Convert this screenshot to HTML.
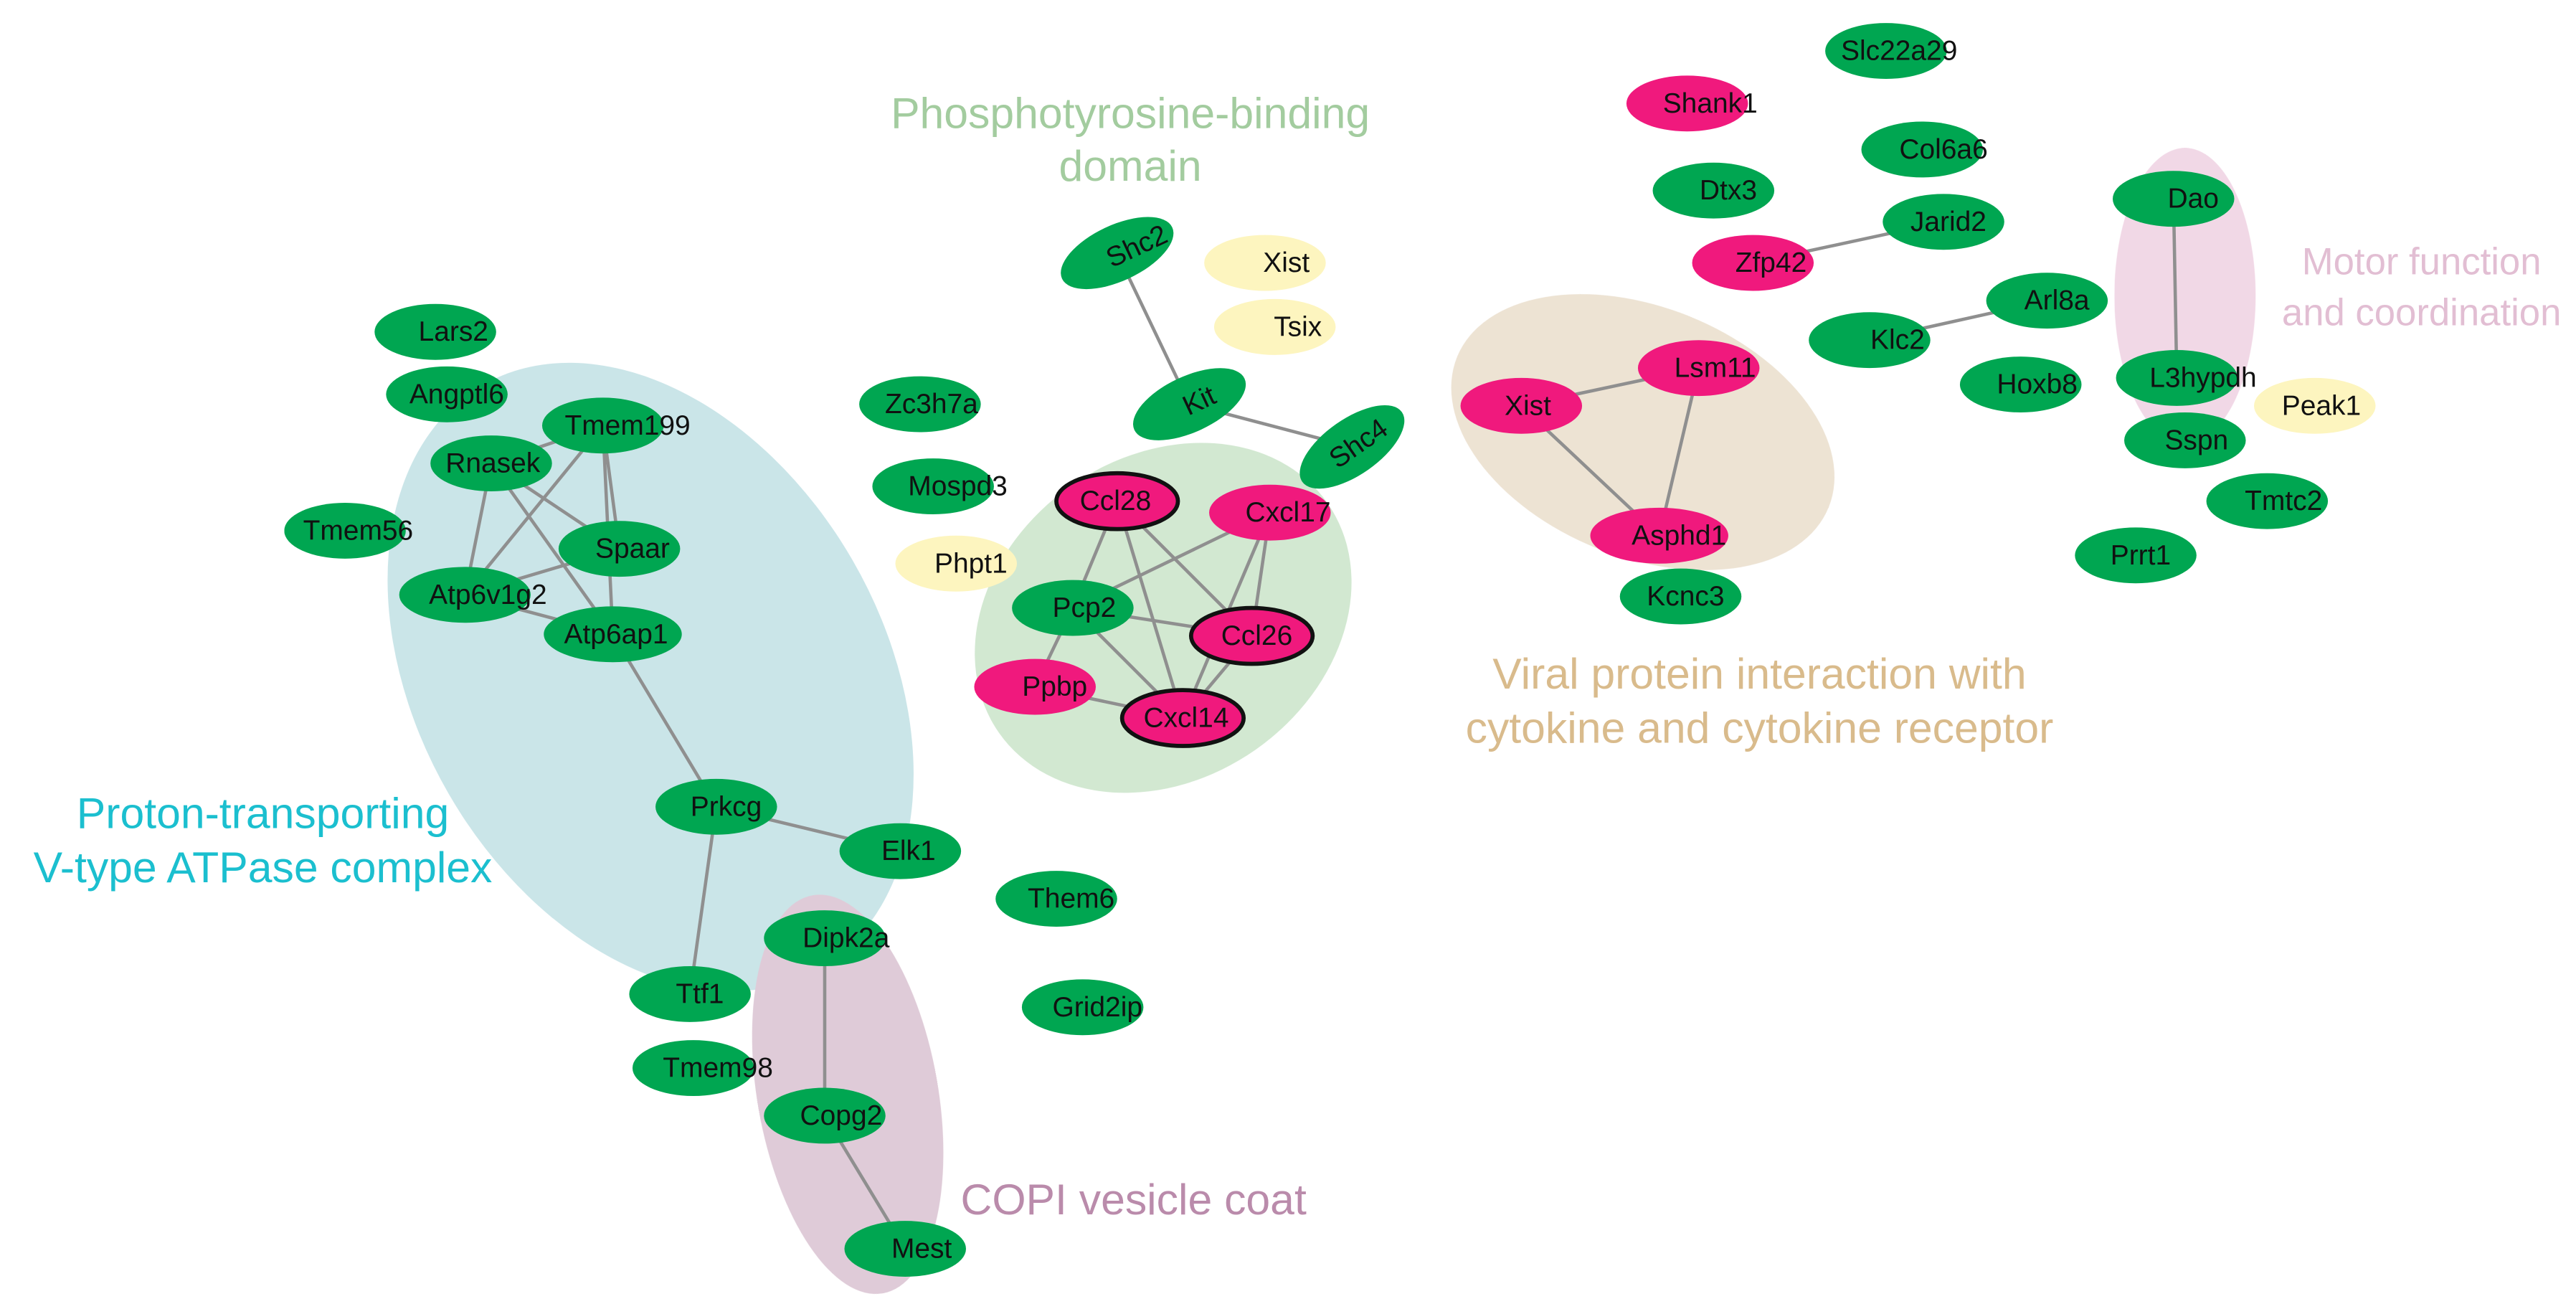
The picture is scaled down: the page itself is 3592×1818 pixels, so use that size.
<!DOCTYPE html>
<html><head><meta charset="utf-8"><style>
html,body{margin:0;padding:0;background:#fff}
svg{display:block}
text{font-family:"Liberation Sans",Arial,sans-serif}
.n{font-size:17px;fill:#111;text-anchor:middle;dominant-baseline:central}
.l{font-size:26.5px;text-anchor:middle}
</style></head><body>
<svg width="3592" height="1818" viewBox="0 0 1568 793.6" xmlns="http://www.w3.org/2000/svg">
<g opacity="0.9">
<ellipse cx="396" cy="412" rx="142" ry="205" transform="rotate(-30 396 412)" fill="#c4e2e6"/>
<ellipse cx="708" cy="376" rx="122" ry="98" transform="rotate(-35 708 376)" fill="#cde6cc"/>
<ellipse cx="1000" cy="263" rx="122" ry="76" transform="rotate(22 1000 263)" fill="#ebe0cf"/>
<ellipse cx="1330" cy="180" rx="43" ry="90" fill="#f0d4e4"/>
<ellipse cx="516" cy="666" rx="55" ry="123" transform="rotate(-10 516 666)" fill="#dcc6d4"/>
</g>
<g stroke="#8f8f8f" stroke-width="2">
<line x1="367" y1="259" x2="299" y2="282"/><line x1="367" y1="259" x2="377" y2="334"/>
<line x1="367" y1="259" x2="283" y2="362"/><line x1="367" y1="259" x2="373" y2="386"/>
<line x1="299" y1="282" x2="377" y2="334"/><line x1="299" y1="282" x2="283" y2="362"/>
<line x1="299" y1="282" x2="373" y2="386"/><line x1="377" y1="334" x2="283" y2="362"/>
<line x1="283" y1="362" x2="373" y2="386"/><line x1="373" y1="386" x2="436" y2="491"/>
<line x1="436" y1="491" x2="548" y2="518"/><line x1="436" y1="491" x2="420" y2="605"/>
<line x1="502" y1="571" x2="502" y2="679"/><line x1="502" y1="679" x2="551" y2="760"/>
<line x1="680" y1="154" x2="724" y2="246"/><line x1="724" y1="246" x2="823" y2="272"/>
<line x1="680" y1="305" x2="653" y2="370"/><line x1="680" y1="305" x2="762" y2="387"/>
<line x1="680" y1="305" x2="720" y2="437"/><line x1="773" y1="312" x2="653" y2="370"/>
<line x1="773" y1="312" x2="762" y2="387"/><line x1="773" y1="312" x2="720" y2="437"/>
<line x1="653" y1="370" x2="762" y2="387"/><line x1="653" y1="370" x2="720" y2="437"/>
<line x1="653" y1="370" x2="630" y2="418"/><line x1="762" y1="387" x2="720" y2="437"/>
<line x1="630" y1="418" x2="720" y2="437"/>
<line x1="1067" y1="160" x2="1183" y2="135"/><line x1="1138" y1="207" x2="1246" y2="183"/>
<line x1="1323" y1="121" x2="1325" y2="230"/>
<line x1="926" y1="247" x2="1034" y2="224"/><line x1="926" y1="247" x2="1010" y2="326"/>
<line x1="1034" y1="224" x2="1010" y2="326"/>
</g>
<g fill="#00a651">
<ellipse cx="265" cy="202" rx="37" ry="17"/><ellipse cx="272" cy="240" rx="37" ry="17"/>
<ellipse cx="367" cy="259" rx="37" ry="17"/><ellipse cx="299" cy="282" rx="37" ry="17"/>
<ellipse cx="210" cy="323" rx="37" ry="17"/><ellipse cx="377" cy="334" rx="37" ry="17"/>
<ellipse cx="283" cy="362" rx="40" ry="17"/><ellipse cx="373" cy="386" rx="42" ry="17"/>
<ellipse cx="436" cy="491" rx="37" ry="17"/><ellipse cx="548" cy="518" rx="37" ry="17"/>
<ellipse cx="502" cy="571" rx="37" ry="17"/><ellipse cx="420" cy="605" rx="37" ry="17"/>
<ellipse cx="422" cy="650" rx="37" ry="17"/><ellipse cx="502" cy="679" rx="37" ry="17"/>
<ellipse cx="551" cy="760" rx="37" ry="17"/>
<ellipse cx="560" cy="246" rx="37" ry="17"/><ellipse cx="568" cy="296" rx="37" ry="17"/>
<ellipse cx="680" cy="154" rx="37" ry="17" transform="rotate(-25 680 154)"/>
<ellipse cx="724" cy="246" rx="37" ry="17" transform="rotate(-25 724 246)"/>
<ellipse cx="823" cy="272" rx="37" ry="17" transform="rotate(-35 823 272)"/>
<ellipse cx="653" cy="370" rx="37" ry="17"/>
<ellipse cx="643" cy="547" rx="37" ry="17"/><ellipse cx="659" cy="613" rx="37" ry="17"/>
<ellipse cx="1148" cy="31" rx="37" ry="17"/><ellipse cx="1170" cy="91" rx="37" ry="17"/>
<ellipse cx="1043" cy="116" rx="37" ry="17"/><ellipse cx="1183" cy="135" rx="37" ry="17"/>
<ellipse cx="1246" cy="183" rx="37" ry="17"/><ellipse cx="1138" cy="207" rx="37" ry="17"/>
<ellipse cx="1230" cy="234" rx="37" ry="17"/><ellipse cx="1323" cy="121" rx="37" ry="17"/>
<ellipse cx="1325" cy="230" rx="37" ry="17"/><ellipse cx="1330" cy="268" rx="37" ry="17"/>
<ellipse cx="1380" cy="305" rx="37" ry="17"/><ellipse cx="1300" cy="338" rx="37" ry="17"/>
<ellipse cx="1023" cy="363" rx="37" ry="17"/>
</g>
<g fill="#fdf5bf">
<ellipse cx="582" cy="343" rx="37" ry="17"/><ellipse cx="770" cy="160" rx="37" ry="17"/>
<ellipse cx="776" cy="199" rx="37" ry="17"/><ellipse cx="1409" cy="247" rx="37" ry="17"/>
</g>
<g fill="#f0197d">
<ellipse cx="680" cy="305" rx="37" ry="17" stroke="#111" stroke-width="2.5"/>
<ellipse cx="773" cy="312" rx="37" ry="17"/>
<ellipse cx="762" cy="387" rx="37" ry="17" stroke="#111" stroke-width="2.5"/>
<ellipse cx="630" cy="418" rx="37" ry="17"/>
<ellipse cx="720" cy="437" rx="37" ry="17" stroke="#111" stroke-width="2.5"/>
<ellipse cx="1027" cy="63" rx="37" ry="17"/><ellipse cx="1067" cy="160" rx="37" ry="17"/>
<ellipse cx="926" cy="247" rx="37" ry="17"/><ellipse cx="1034" cy="224" rx="37" ry="17"/>
<ellipse cx="1010" cy="326" rx="42" ry="17"/>
</g>
<g class="n">
<text x="276" y="202" class="n">Lars2</text><text x="278" y="240" class="n">Angptl6</text>
<text x="382" y="259" class="n">Tmem199</text><text x="300" y="282" class="n">Rnasek</text>
<text x="218" y="323" class="n">Tmem56</text><text x="385" y="334" class="n">Spaar</text>
<text x="297" y="362" class="n">Atp6v1g2</text><text x="375" y="386" class="n">Atp6ap1</text>
<text x="442" y="491" class="n">Prkcg</text><text x="553" y="518" class="n">Elk1</text>
<text x="515" y="571" class="n">Dipk2a</text><text x="426" y="605" class="n">Ttf1</text>
<text x="437" y="650" class="n">Tmem98</text><text x="512" y="679" class="n">Copg2</text>
<text x="561" y="760" class="n">Mest</text>
<text x="567" y="246" class="n">Zc3h7a</text><text x="583" y="296" class="n">Mospd3</text>
<text x="591" y="343" class="n">Phpt1</text><text x="692" y="150" class="n" transform="rotate(-25 692 150)">Shc2</text>
<text x="783" y="160" class="n">Xist</text><text x="790" y="199" class="n">Tsix</text>
<text x="730" y="244" class="n" transform="rotate(-25 730 244)">Kit</text>
<text x="827" y="270" class="n" transform="rotate(-35 827 270)">Shc4</text>
<text x="679" y="305" class="n">Ccl28</text><text x="784" y="312" class="n">Cxcl17</text>
<text x="660" y="370" class="n">Pcp2</text><text x="765" y="387" class="n">Ccl26</text>
<text x="642" y="418" class="n">Ppbp</text><text x="722" y="437" class="n">Cxcl14</text>
<text x="652" y="547" class="n">Them6</text><text x="668" y="613" class="n">Grid2ip</text>
<text x="1156" y="31" class="n">Slc22a29</text><text x="1041" y="63" class="n">Shank1</text>
<text x="1183" y="91" class="n">Col6a6</text><text x="1052" y="116" class="n">Dtx3</text>
<text x="1186" y="135" class="n">Jarid2</text><text x="1078" y="160" class="n">Zfp42</text>
<text x="1252" y="183" class="n">Arl8a</text><text x="1155" y="207" class="n">Klc2</text>
<text x="1240" y="234" class="n">Hoxb8</text><text x="1335" y="121" class="n">Dao</text>
<text x="1341" y="230" class="n">L3hypdh</text><text x="1413" y="247" class="n">Peak1</text>
<text x="1337" y="268" class="n">Sspn</text><text x="1390" y="305" class="n">Tmtc2</text>
<text x="1303" y="338" class="n">Prrt1</text><text x="1026" y="363" class="n">Kcnc3</text>
<text x="930" y="247" class="n">Xist</text><text x="1044" y="224" class="n">Lsm11</text>
<text x="1022" y="326" class="n">Asphd1</text>
</g>
<text class="l" x="688" y="78" fill="#a3cc9f">Phosphotyrosine-binding</text>
<text class="l" x="688" y="110" fill="#a3cc9f">domain</text>
<text class="l" x="160" y="504" fill="#1bbfcf">Proton-transporting</text>
<text class="l" x="160" y="537" fill="#1bbfcf">V-type ATPase complex</text>
<text class="l" x="1071" y="419" fill="#d9bb8c">Viral protein interaction with</text>
<text class="l" x="1071" y="452" fill="#d9bb8c">cytokine and cytokine receptor</text>
<text class="l" x="1474" y="167" fill="#e2bed3" style="font-size:23px">Motor function</text>
<text class="l" x="1474" y="198" fill="#e2bed3" style="font-size:23px">and coordination</text>
<text class="l" x="690" y="739" fill="#ba8bab">COPI vesicle coat</text>
</svg>
</body></html>
